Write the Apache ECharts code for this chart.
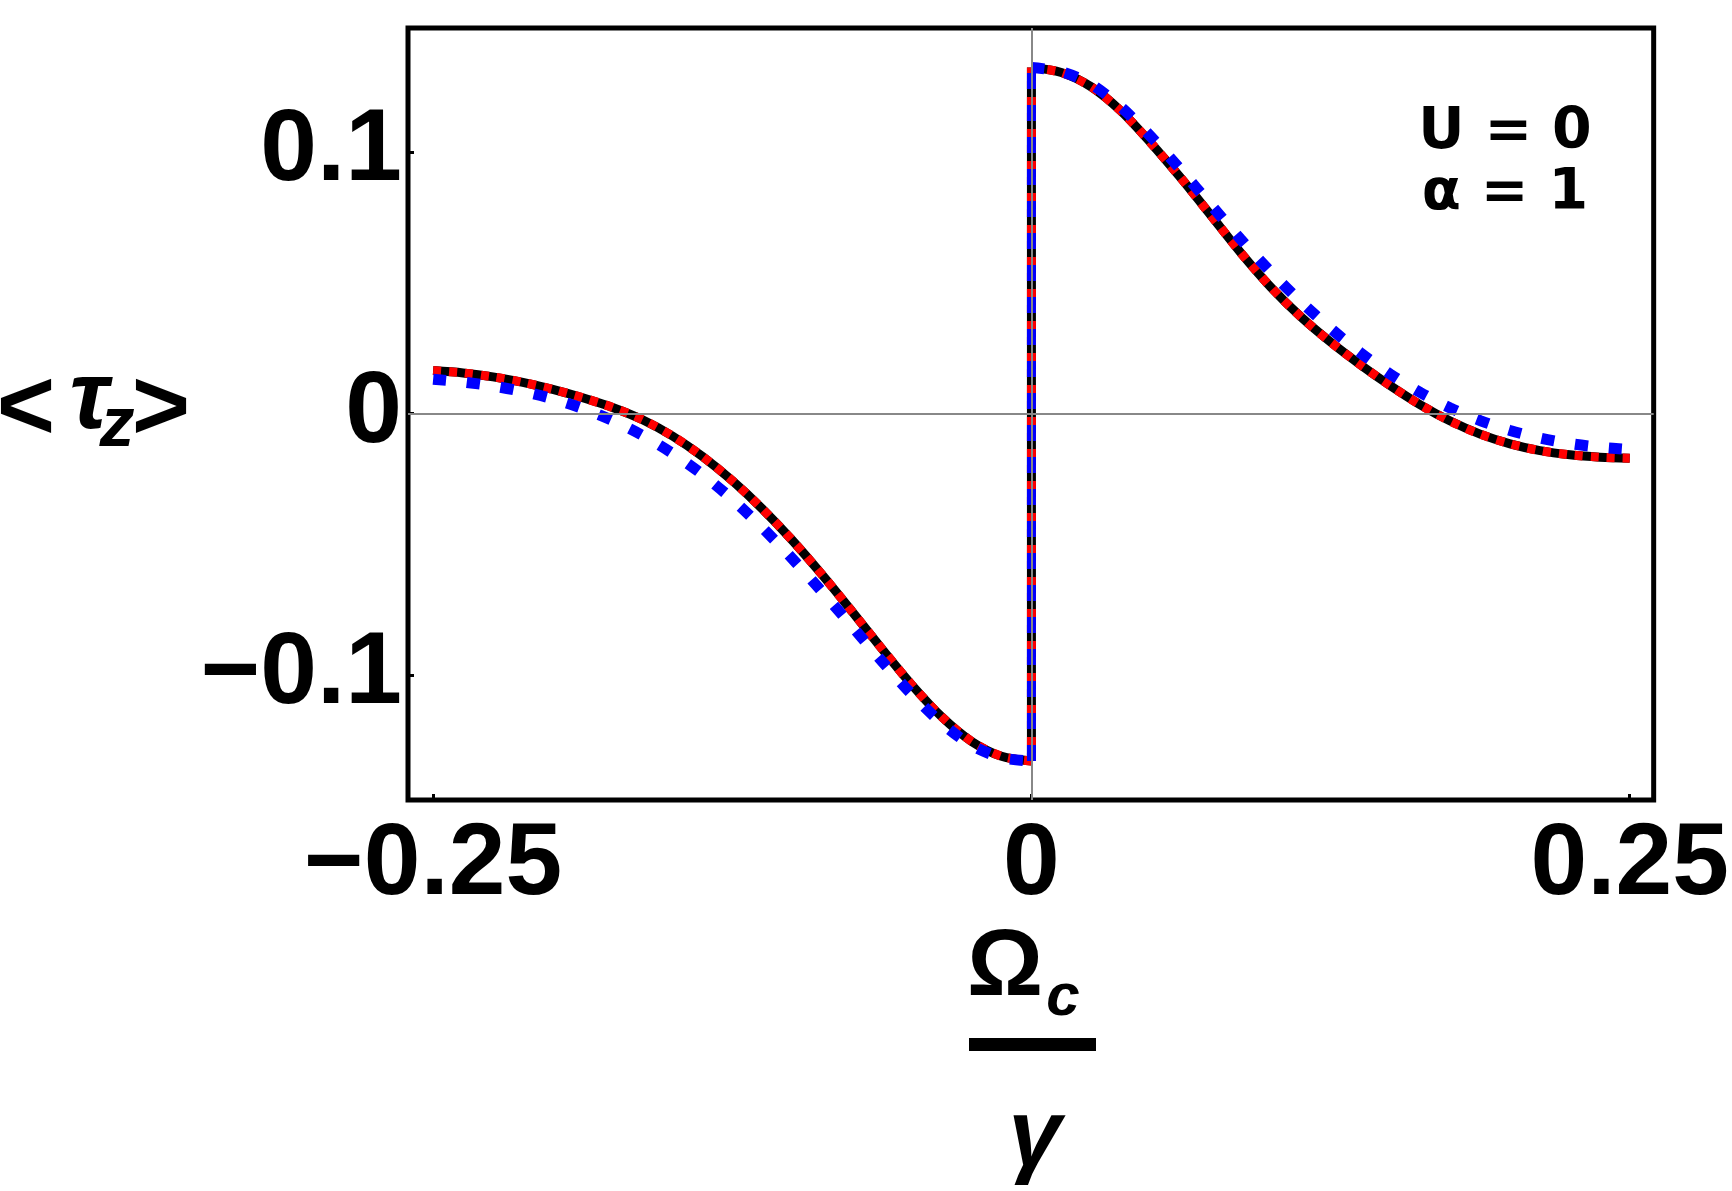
<!DOCTYPE html>
<html>
<head>
<meta charset="utf-8">
<script src="https://cdn.jsdelivr.net/npm/echarts@6/dist/echarts.min.js"></script>
<style>
html, body { margin: 0; padding: 0; background: #fff; }
#chart { width: 1732px; height: 1191px; }
</style>
</head>
<body>
<div id="chart"></div>
<script>
// Omega_c / gamma, left branch (below zero) and right branch (above zero)
var omegaLeft = [-0.25, -0.2375, -0.225, -0.2125, -0.2, -0.1875, -0.175, -0.1625, -0.15, -0.1375, -0.125,
                 -0.1125, -0.1, -0.0875, -0.075, -0.0625, -0.05, -0.0375, -0.025, -0.0125, 0];
var omegaRight = [0, 0.0125, 0.025, 0.0375, 0.05, 0.0625, 0.075, 0.0875, 0.1, 0.1125, 0.125,
                  0.1375, 0.15, 0.1625, 0.175, 0.1875, 0.2, 0.2125, 0.225, 0.2375, 0.25];

// <tau_z> : black / red curves (they lie on top of each other)
var tauLeft = [0.0164, 0.0155, 0.0140, 0.0119, 0.0092, 0.0060, 0.0023, -0.0024, -0.0086, -0.0164, -0.0257,
               -0.0364, -0.0484, -0.0616, -0.0756, -0.0899, -0.1037, -0.1159, -0.1253, -0.1310, -0.1328];
var tauRight = [0.1322, 0.1303, 0.1248, 0.1155, 0.1033, 0.0899, 0.0757, 0.0614, 0.0483, 0.0370, 0.0273,
                0.0186, 0.0106, 0.0033, -0.0029, -0.0079, -0.0116, -0.0142, -0.0158, -0.0167, -0.0171];

// <tau_z> : blue dotted curve
var tauBlueLeft = [0.0131, 0.0120, 0.0105, 0.0084, 0.0056, 0.0019, -0.0027, -0.0084, -0.0152, -0.0233, -0.0328,
                   -0.0436, -0.0554, -0.0681, -0.0813, -0.0946, -0.1073, -0.1183, -0.1268, -0.1315, -0.1328];
var tauBlueRight = [0.1322, 0.1306, 0.1258, 0.1170, 0.1057, 0.0930, 0.0797, 0.0665, 0.0541, 0.0428, 0.0325,
                    0.0232, 0.0150, 0.0080, 0.0021, -0.0027, -0.0065, -0.0094, -0.0115, -0.0129, -0.0138];

var xTicks = [-0.25, 0, 0.25];
var yTicks = [-0.1, 0, 0.1];

function pairs(xs, ys) {
    return xs.map(function (x, i) { return [x, ys[i]]; });
}
// vertical jump at Omega_c = 0
function jump(left, right) {
    return [[0, left[left.length - 1]], [0, right[0]]];
}
function fmt(v) {
    return v === 0 ? '0' : String(v).replace('-', '\u2212');
}

var myChart = echarts.init(document.getElementById('chart'));

function curve(data, color, width, dash, z) {
    return {
        type: 'line',
        data: data,
        showSymbol: false,
        smooth: 0.3,
        silent: true,
        z: z,
        lineStyle: { color: color, width: width, type: dash, cap: 'butt' }
    };
}
function jumpLine(data, color, width, dash, z) {
    var s = curve(data, color, width, dash, z);
    s.smooth = false;
    return s;
}

var labelFont = 'Liberation Sans';
var series = [
    {
        type: 'line',
        data: [],
        z: 1,
        markLine: {
            silent: true,
            symbol: ['none', 'none'],
            label: { show: false },
            lineStyle: { color: '#888', width: 2, type: 'solid' },
            data: [{ xAxis: 0 }, { yAxis: 0 }]
        }
    },
    curve(pairs(omegaLeft, tauLeft), '#000', 9, 'solid', 2),
    jumpLine(jump(tauLeft, tauRight), '#000', 9, 'solid', 2),
    curve(pairs(omegaRight, tauRight), '#000', 9, 'solid', 2),
    curve(pairs(omegaLeft, tauLeft), '#ff0000', 9, [8, 8], 3),
    jumpLine(jump(tauLeft, tauRight), '#ff0000', 9, [8, 8], 3),
    curve(pairs(omegaRight, tauRight), '#ff0000', 9, [8, 8], 3),
    curve(pairs(omegaLeft, tauBlueLeft), '#0000ff', 11, [13, 21], 4),
    jumpLine(jump(tauBlueLeft, tauBlueRight), '#0000ff', 9, [16, 16], 4),
    curve(pairs(omegaRight, tauBlueRight), '#0000ff', 11, [13, 21], 4)
];

var tickStyle = { show: true, inside: true, length: 6, lineStyle: { color: '#000', width: 3 } };

var option = {
    animation: false,
    backgroundColor: '#fff',
    grid: {
        left: 408, top: 28, width: 1250, height: 772,
        show: true, borderColor: '#000', borderWidth: 5, backgroundColor: 'transparent'
    },
    xAxis: {
        type: 'value',
        min: -0.2605, max: 0.26,
        axisLine: { show: false, onZero: false },
        splitLine: { show: false },
        axisTick: Object.assign({ customValues: xTicks }, tickStyle),
        axisLabel: {
            customValues: xTicks, formatter: fmt, margin: 15,
            color: '#000', fontFamily: labelFont, fontWeight: 'bold', fontSize: 102
        }
    },
    yAxis: {
        type: 'value',
        min: -0.1477, max: 0.1473,
        axisLine: { show: false, onZero: false },
        splitLine: { show: false },
        axisTick: Object.assign({ customValues: yTicks }, tickStyle),
        axisLabel: {
            customValues: yTicks, formatter: fmt, margin: 6, padding: [9, 0, 0, 0],
            color: '#000', fontFamily: labelFont, fontWeight: 'bold', fontSize: 102
        }
    },
    graphic: [
        // y axis title  <τ_z>
        { type: 'text', x: 26, y: 411, style: { text: '<', fill: '#000', font: 'bold 100px "Liberation Sans"', textAlign: 'center', verticalAlign: 'middle', textVerticalAlign: 'middle' } },
        { type: 'text', x: 89, y: 402, style: { text: 'τ', fill: '#000', font: 'italic bold 96px "Liberation Sans"', textAlign: 'center', verticalAlign: 'middle', textVerticalAlign: 'middle' } },
        { type: 'text', x: 117, y: 427, style: { text: 'z', fill: '#000', font: 'italic bold 70px "Liberation Sans"', textAlign: 'center', verticalAlign: 'middle', textVerticalAlign: 'middle' } },
        { type: 'text', x: 161, y: 411, style: { text: '>', fill: '#000', font: 'bold 100px "Liberation Sans"', textAlign: 'center', verticalAlign: 'middle', textVerticalAlign: 'middle' } },
        // x axis title  Ω_c / γ
        { type: 'text', x: 1005, y: 969, style: { text: 'Ω', fill: '#000', font: 'bold 95px "Liberation Sans"', textAlign: 'center', verticalAlign: 'middle', textVerticalAlign: 'middle' } },
        { type: 'text', x: 1063, y: 998, style: { text: 'c', fill: '#000', font: 'italic bold 60px "Liberation Sans"', textAlign: 'center', verticalAlign: 'middle', textVerticalAlign: 'middle' } },
        { type: 'rect', shape: { x: 969, y: 1038, width: 127, height: 13 }, style: { fill: '#000' } },
        { type: 'text', x: 1035, y: 1139, style: { text: 'γ', fill: '#000', font: 'italic bold 95px "Liberation Sans"', textAlign: 'center', verticalAlign: 'middle', textVerticalAlign: 'middle' } },
        // parameters
        { type: 'text', x: 1505, y: 133, style: { text: 'U = 0', fill: '#000', font: 'bold 57px "DejaVu Sans"', textAlign: 'center', verticalAlign: 'middle', textVerticalAlign: 'middle' } },
        { type: 'text', x: 1505, y: 194, style: { text: 'α = 1', fill: '#000', font: 'bold 57px "DejaVu Sans"', textAlign: 'center', verticalAlign: 'middle', textVerticalAlign: 'middle' } }
    ],
    series: series
};

myChart.setOption(option);
</script>
</body>
</html>
